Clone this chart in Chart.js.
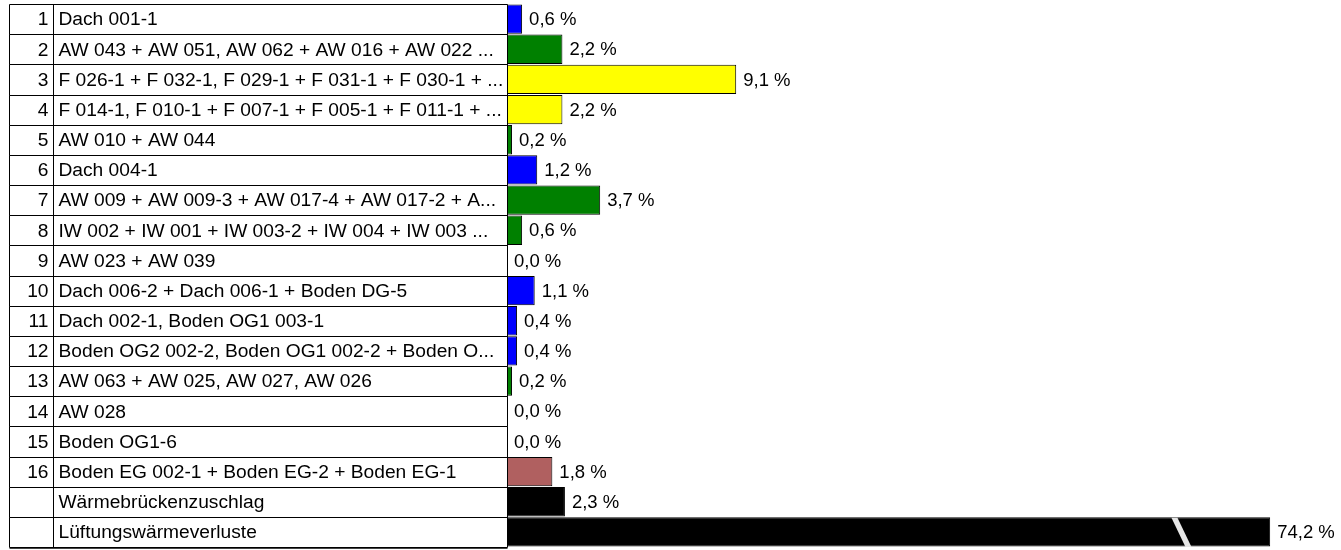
<!DOCTYPE html>
<html>
<head>
<meta charset="utf-8">
<script src="https://cdn.jsdelivr.net/npm/chart.js@4.4.1/dist/chart.umd.min.js"></script>
<style>
  html, body { margin: 0; padding: 0; background: #fff; }
  #wrap { width: 1341px; height: 550px; position: relative; }
</style>
</head>
<body>
<div id="wrap"><canvas id="c" width="1341" height="550"></canvas></div>
<script>
// ---- data ----
const rowNumbers = ['1','2','3','4','5','6','7','8','9','10','11','12','13','14','15','16','',''];
const categories = [
  'Dach 001-1',
  'AW 043 + AW 051, AW 062 + AW 016 + AW 022 ...',
  'F 026-1 + F 032-1, F 029-1 + F 031-1 + F 030-1 + ...',
  'F 014-1, F 010-1 + F 007-1 + F 005-1 + F 011-1 + ...',
  'AW 010 + AW 044',
  'Dach 004-1',
  'AW 009 + AW 009-3 + AW 017-4 + AW 017-2 + A...',
  'IW 002 + IW 001 + IW 003-2 + IW 004 + IW 003 ...',
  'AW 023 + AW 039',
  'Dach 006-2 + Dach 006-1 + Boden DG-5',
  'Dach 002-1, Boden OG1 003-1',
  'Boden OG2 002-2, Boden OG1 002-2 + Boden O...',
  'AW 063 + AW 025, AW 027, AW 026',
  'AW 028',
  'Boden OG1-6',
  'Boden EG 002-1 + Boden EG-2 + Boden EG-1',
  'Wärmebrückenzuschlag',
  'Lüftungswärmeverluste'
];
const shares = [0.6, 2.2, 9.1, 2.2, 0.2, 1.2, 3.7, 0.6, 0.0, 1.1, 0.4, 0.4, 0.2, 0.0, 0.0, 1.8, 2.3, 74.2];
const barColors = ['#0000ff','#008000','#ffff00','#ffff00','#008000','#0000ff','#008000','#008000','#008000',
  '#0000ff','#0000ff','#0000ff','#008000','#008000','#008000','#b06060','#000000','#000000'];
const axisBreakAt = 30.3;   // bars longer than this are drawn broken
const axisMax = 32;

const TABLE_FONT = '19.2px "Liberation Sans", Arial, sans-serif';
const LABEL_FONT = '18.5px "Liberation Sans", Arial, sans-serif';

const tablePlugin = {
  id: 'tablePlugin',
  afterDraw(chart) {
    const ctx = chart.ctx;
    const ys = chart.scales.y, xs = chart.scales.x;
    const area = chart.chartArea;
    const n = categories.length;
    const rowH = (area.bottom - area.top) / n;
    const left = 9.5, numRight = 53.5, right = Math.round(xs.getPixelForValue(0)) + 0.5;
    ctx.save();
    ctx.strokeStyle = '#000';
    ctx.lineWidth = 1;
    ctx.textBaseline = 'middle';
    for (let i = 0; i < n; i++) {
      const cy = ys.getPixelForValue(i);
      const top = Math.round(cy - rowH / 2) + 0.5;
      const bot = Math.round(cy + rowH / 2) + 0.5;
      ctx.beginPath();
      ctx.rect(left, top, right - left, bot - top);
      ctx.moveTo(numRight, top); ctx.lineTo(numRight, bot);
      ctx.stroke();
      ctx.fillStyle = '#000';
      ctx.font = TABLE_FONT;
      ctx.textAlign = 'right';
      ctx.fillText(rowNumbers[i], numRight - 5, cy + 1);
      ctx.textAlign = 'left';
      ctx.fillText(categories[i], numRight + 5, cy + 1);
      // value label
      const v = shares[i];
      const xEnd = xs.getPixelForValue(Math.min(v, axisBreakAt));
      ctx.font = LABEL_FONT;
      ctx.fillText(v.toFixed(1).replace('.', ',') + ' %', xEnd + 7, cy + 1);
      // axis break marker
      if (v > axisBreakAt) {
        const bx = xs.getPixelForValue(26.5);
        const bTop = cy - rowH / 2 + 1, bBot = cy + rowH / 2;
        ctx.fillStyle = '#e6e6e6';
        ctx.beginPath();
        ctx.moveTo(bx - 3, bTop);
        ctx.lineTo(bx + 3, bTop);
        ctx.lineTo(bx + 17, bBot);
        ctx.lineTo(bx + 11, bBot);
        ctx.closePath();
        ctx.fill();
      }
    }
    // slightly heavier bottom edge of the table
    const lastBot = Math.round(area.bottom) + 0.5;
    ctx.strokeStyle = '#444';
    ctx.lineWidth = 1;
    ctx.beginPath();
    ctx.moveTo(left, lastBot + 1); ctx.lineTo(right, lastBot + 1);
    ctx.stroke();
    ctx.restore();
  }
};

new Chart(document.getElementById('c'), {
  type: 'bar',
  data: {
    labels: categories,
    datasets: [{
      data: shares.map(v => Math.min(v, axisBreakAt)),
      backgroundColor: barColors,
      borderColor: '#000',
      borderWidth: 1,
      borderSkipped: false,
      categoryPercentage: 1,
      barPercentage: 0.97
    }]
  },
  options: {
    indexAxis: 'y',
    responsive: false,
    animation: false,
    layout: { padding: { left: 507, right: 28, top: 4, bottom: 3 } },
    scales: {
      x: { display: false, min: 0, max: axisMax },
      y: { display: false }
    },
    plugins: { legend: { display: false }, tooltip: { enabled: false } }
  },
  plugins: [tablePlugin]
});
</script>
</body>
</html>
